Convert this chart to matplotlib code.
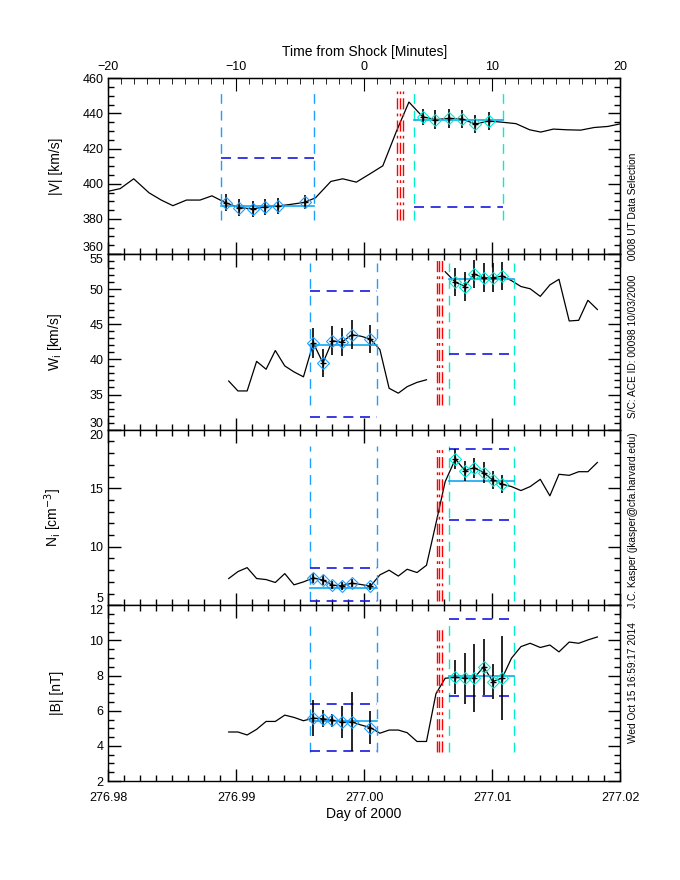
import numpy as np
import matplotlib
matplotlib.use("Agg")
import matplotlib.pyplot as plt
from matplotlib.ticker import MultipleLocator

plt.rcParams['font.family'] = ['Liberation Sans', 'DejaVu Sans']
plt.rcParams['font.size'] = 9

# --- panel 1: |V| vs minutes from shock
t_min = [-20.0, -19.06, -18.0, -16.8, -15.85, -14.94, -13.88, -12.82, -11.89, -10.83,
         -9.77, -8.71, -7.72, -6.72, -5.68, -4.64, -3.80, -2.60, -1.67, -0.61,
         0.45, 1.46, 2.52, 3.50, 4.57, 5.57, 6.64, 7.67, 8.68, 9.74,
         10.80, 11.86, 12.93, 13.80, 14.78, 15.85, 16.91, 17.97, 19.03, 19.96]
v_mag = [395.7, 397.2, 402.8, 394.8, 390.7, 387.5, 390.7, 390.7, 393.1, 389.2,
         386.4, 385.7, 386.8, 387.3, 388.3, 389.4, 392.0, 401.3, 402.8, 400.9,
         405.6, 410.2, 429.8, 446.5, 438.1, 436.5, 437.2, 436.8, 434.0, 435.7,
         435.0, 434.2, 430.7, 429.4, 431.1, 430.7, 430.5, 432.0, 432.6, 434.0]
v_err_pre = [4.7, 4.7, 4.5, 4.7, 4.7, 4.0]
v_err_post = [4.7, 5.6, 5.6, 5.3, 5.3, 5.3]

# --- panels 2-4 vs day of year
t_day = [276.98942, 276.99014, 276.99086, 276.99160, 276.99234, 276.99306, 276.99380,
         276.99452, 276.99526, 276.99603, 276.99678, 276.99752, 276.99824, 276.99903,
         276.99975, 277.00049, 277.00123, 277.00195, 277.00267, 277.00336, 277.00413,
         277.00487, 277.00561, 277.00633, 277.00713, 277.00787, 277.00859, 277.00933,
         277.01005, 277.01079, 277.01151, 277.01225, 277.01297, 277.01376, 277.01451,
         277.01522, 277.01602, 277.01676, 277.01748, 277.01822]
w_ion = [36.92, 35.51, 35.51, 39.72, 38.6, 41.26, 39.07, 38.22, 37.52, 42.34,
         39.49, 42.66, 42.43, 43.5, 43.3, 42.9, 41.4, 35.89, 35.19, 36.12,
         36.73, 37.1, np.nan, 52.48, 50.98, 50.37, 52.15, 51.6, 51.6, 51.87,
         51.21, 50.37, 50.05, 48.97, 50.6, 51.4, 45.47, 45.56, 48.41, 47.1]
n_ion = [7.29, 7.88, 8.22, 7.29, 7.2, 6.95, 7.71, 6.75, 7.0, 7.34,
         7.15, 6.72, 6.67, 6.89, 6.78, 6.63, 7.6, 8.0, 7.5, 8.08,
         7.8, 8.42, 12.0, 15.56, 17.5, 16.5, 16.75, 16.33, 15.7, 15.34,
         15.14, 14.8, 15.14, 15.76, 14.35, 16.19, 16.1, 16.41, 16.41, 17.2]
b_mag = [4.79, 4.79, 4.62, 4.94, 5.39, 5.39, 5.75, 5.62, 5.43, 5.58,
         5.54, 5.47, 5.35, 5.37, 5.19, 5.04, 4.72, 4.9, 4.9, 4.75,
         4.25, 4.25, 6.97, 7.85, 7.9, 7.85, 7.85, 8.5, 7.66, 7.87,
         8.99, 9.65, 9.84, 9.6, 9.74, 9.35, 9.91, 9.84, 10.03, 10.2]
w_err_pre = [2.1, 2.05, 2.1, 2.0, 2.05, 2.0]
w_err_post = [2.0, 2.0, 2.05, 2.05, 2.05, 2.0]
n_err_pre = [0.45, 0.4, 0.32, 0.32, 0.33, 0.3]
n_err_post = [0.85, 0.86, 0.87, 0.87, 0.8, 0.78]
b_err_pre = [1.03, 0.49, 0.37, 0.92, 1.68, 0.92]
b_err_post = [0.97, 1.44, 1.94, 1.61, 0.98, 2.41]

# samples picked for the upstream / downstream averages
pre_idx = [9, 10, 11, 12, 13, 15]
post_idx = [24, 25, 26, 27, 28, 29]

# selection windows and shock times
win_pre_min, win_post_min = (-11.17, -3.88), (3.90, 10.86)
shock_min = [2.60, 2.80, 3.03]
win_pre_day, win_post_day = (276.99580, 277.00104), (277.00660, 277.01170)
shock_day = [277.00567, 277.00586, 277.00608]

# per panel: means (pre, post), limit lines pre / post
v_means, v_lims_pre, v_lims_post = (387.5, 436.1), [414.9], [387.0]
w_means, w_lims_pre, w_lims_post = (42.1, 51.4), [49.67, 31.78], [40.7]
n_means, n_lims_pre, n_lims_post = (6.44, 15.62), [8.22, 5.34], [18.39, 12.32]
b_means, b_lims_pre, b_lims_post = (5.41, 8.0), [6.37, 3.72], [11.23, 6.82]

c_pre = '#1E9EFF'
c_post = '#00F0C8'
c_mean = '#10A8F0'
c_lim = '#1818E0'
c_diam_post = '#00E8D0'


def style_axis(ax, ymaj, ymin):
    ax.yaxis.set_major_locator(MultipleLocator(ymaj))
    ax.yaxis.set_minor_locator(MultipleLocator(ymin))
    ax.tick_params(which='both', direction='in', left=True, right=True, labelsize=9)
    ax.tick_params(which='major', length=9, width=1)
    ax.tick_params(which='minor', length=4.5, width=1)
    for s in ax.spines.values():
        s.set_linewidth(1)


def draw_panel(ax, t, y, err_pre, err_post, win_pre, win_post, shock,
               means, lims_pre, lims_post, ext_pre, ext_post, ext_red):
    ax.plot(t, y, color='k', lw=0.9)
    for (lo, hi), ext, col in [(win_pre, ext_pre, c_pre), (win_post, ext_post, c_post)]:
        for xx in (lo, hi):
            ax.plot([xx, xx], ext, color=col, lw=1, ls=(0, (7, 5)))
    for xx in shock:
        ax.plot([xx, xx], ext_red, color='red', lw=1, ls=(0, (8, 3, 2, 3)))
    for lv in lims_pre:
        ax.plot(win_pre, [lv, lv], color=c_lim, lw=1.2, ls=(0, (6, 4)))
    for lv in lims_post:
        ax.plot(win_post, [lv, lv], color=c_lim, lw=1.2, ls=(0, (6, 4)))
    ax.plot(win_pre, [means[0]] * 2, color=c_mean, lw=1.2)
    ax.plot(win_post, [means[1]] * 2, color=c_mean, lw=1.2)
    for idx, err, col in [(pre_idx, err_pre, c_pre), (post_idx, err_post, c_diam_post)]:
        tx = [t[i] for i in idx]
        ty = [y[i] for i in idx]
        ax.errorbar(tx, ty, yerr=err, fmt='+', color='k', ms=4.5, mew=1,
                    elinewidth=1.2, capsize=0, zorder=4)
        ax.plot(tx, ty, 'D', mfc='none', mec=col, ms=6, mew=0.8, zorder=5)


fig = plt.figure(figsize=(6.8, 8.8), dpi=100)
axes = fig.subplots(4, 1, sharex=True, gridspec_kw=dict(hspace=0))
fig.subplots_adjust(left=0.159, right=0.912, top=0.911, bottom=0.1125)
ax1, ax2, ax3, ax4 = axes

for ax in axes:
    ax.set_xlim(276.98, 277.02)
    ax.xaxis.set_major_locator(MultipleLocator(0.01))
    ax.xaxis.set_minor_locator(MultipleLocator(0.00125))
    ax.tick_params(which='both', axis='x', bottom=True, top=True)

# panel 1 lives on the minutes axis
axm = ax1.twiny()
axm.set_xlim(-20, 20)
axm.xaxis.set_major_locator(MultipleLocator(10))
axm.xaxis.set_minor_locator(MultipleLocator(1))
axm.tick_params(which='both', direction='in', top=True, bottom=False, labelsize=9)
axm.tick_params(which='major', length=9)
axm.tick_params(which='minor', length=4.5)
ax1.tick_params(which='both', axis='x', top=False)
axm.set_xlabel('Time from Shock [Minutes]', fontsize=10)
draw_panel(axm, t_min, v_mag, v_err_pre, v_err_post, win_pre_min, win_post_min, shock_min,
           v_means, v_lims_pre, v_lims_post, (379.5, 453.0), (379.5, 453.0), (379.5, 453.0))
ax1.set_ylim(360, 460)
style_axis(ax1, 20, 5)
ax1.set_ylabel('|V| [km/s]', fontsize=10, labelpad=14)

draw_panel(ax2, t_day, w_ion, w_err_pre, w_err_post, win_pre_day, win_post_day, shock_day,
           w_means, w_lims_pre, w_lims_post, (33.46, 53.74), (33.46, 53.74), (33.46, 54.35))
ax2.set_ylim(30, 55)
style_axis(ax2, 5, 1)
ax2.set_ylabel('W$_\\mathrm{i}$ [km/s]', fontsize=10, labelpad=18)

draw_panel(ax3, t_day, n_ion, n_err_pre, n_err_post, win_pre_day, win_post_day, shock_day,
           n_means, n_lims_pre, n_lims_post, (5.34, 18.59), (5.34, 18.59), (5.4, 18.59))
ax3.set_ylim(5, 20)
style_axis(ax3, 5, 1)
ax3.set_ylabel('N$_\\mathrm{i}$ [cm$^{-3}$]', fontsize=10, labelpad=18)

draw_panel(ax4, t_day, b_mag, b_err_pre, b_err_post, win_pre_day, win_post_day, shock_day,
           b_means, b_lims_pre, b_lims_post, (3.63, 10.81), (3.63, 11.23), (3.63, 10.81))
ax4.set_ylim(2, 12)
style_axis(ax4, 2, 0.5)
ax4.set_ylabel('|B| [nT]', fontsize=10, labelpad=18)

for ax in axes:
    ax.tick_params(which='both', axis='x', direction='in')
    ax.tick_params(which='major', axis='x', length=9, pad=8)
    ax.tick_params(which='minor', axis='x', length=4.5)
ax4.xaxis.set_major_formatter(plt.FuncFormatter(lambda x, p: f'{x:.2f}'))
ax4.set_xlabel('Day of 2000', fontsize=10, labelpad=2)

fig.text(0.931, 0.491,
         'Wed Oct 15 16:59:17 2014     J.C. Kasper (jkasper@cfa.harvard.edu)     '
         'S/C: ACE ID: 00098 10/03/2000     0008 UT Data Selection',
         rotation=90, ha='center', va='center', fontsize=7.3)

# nudge the limit labels at panel joins apart, as in the original
fig.canvas.draw()
for i, ax in enumerate(axes):
    lo, hi = ax.get_ylim()
    for tk in ax.yaxis.get_major_ticks():
        loc = tk.get_loc()
        if i < 3 and abs(loc - lo) < 1e-6:
            tk.label1.set_va('bottom')
        if i > 0 and abs(loc - hi) < 1e-6:
            tk.label1.set_va('top')

fig.savefig('out.png', dpi=100)
